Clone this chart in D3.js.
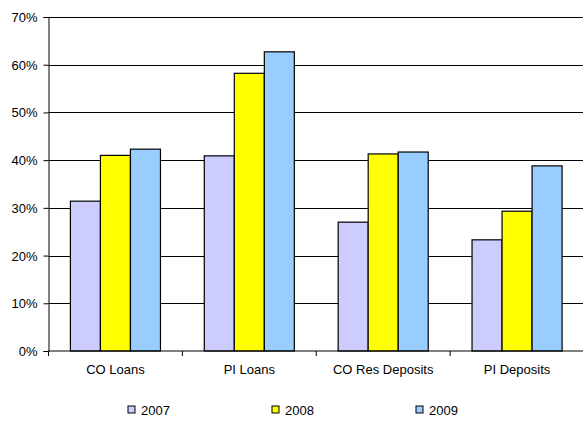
<!DOCTYPE html>
<html>
<head>
<meta charset="utf-8">
<script src="https://cdn.jsdelivr.net/npm/d3@7"></script>
<style>
	body { margin: 0; background: #fff; }
	text { font-family: "Liberation Sans", Arial, sans-serif; font-size: 13px; fill: #000; }
</style>
</head>
<body>
<div id="chart"></div>
<script>
var categories = ["CO Loans", "PI Loans", "CO Res Deposits", "PI Deposits"];
var years = ["2007", "2008", "2009"];
var values2007 = [0.314, 0.409, 0.270, 0.233];
var values2008 = [0.410, 0.582, 0.413, 0.293];
var values2009 = [0.423, 0.627, 0.417, 0.388];
var yTicks = [0, 0.1, 0.2, 0.3, 0.4, 0.5, 0.6, 0.7];
var colors = ["#CCCCFF", "#FFFF00", "#99CCFF"];

var seriesValues = [values2007, values2008, values2009];

var width = 583, height = 421;
var plotLeft = 48.5, plotRight = 584, plotTop = 17, plotBottom = 351;

var svg = d3.select("#chart").append("svg")
	.attr("width", width)
	.attr("height", height);

var y = d3.scaleLinear().domain([0, 0.7]).range([plotBottom, plotTop]);
var x0 = d3.scaleBand().domain(categories).range([plotLeft, plotRight]);
var x1 = d3.scaleBand().domain(years).range([0, x0.bandwidth()]).paddingOuter(0.73);

// gridlines
svg.append("g")
	.selectAll("line")
	.data(yTicks.slice(1))
	.enter()
	.append("line")
	.attr("x1", plotLeft)
	.attr("x2", width)
	.attr("y1", function(d){ return Math.round(y(d)) + 0.5; })
	.attr("y2", function(d){ return Math.round(y(d)) + 0.5; })
	.attr("stroke", "#000")
	.attr("stroke-width", 1);

// bars
var groups = svg.append("g")
	.selectAll("g")
	.data(categories)
	.enter()
	.append("g")
	.attr("transform", function(d){ return "translate(" + x0(d) + ",0)"; });

groups.selectAll("rect")
	.data(function(d, i){
		return years.map(function(yr, j){ return {year: yr, value: seriesValues[j][i], idx: j}; });
	})
	.enter()
	.append("rect")
	.attr("x", function(d){ return x1(d.year); })
	.attr("y", function(d){ return y(d.value); })
	.attr("width", x1.bandwidth())
	.attr("height", function(d){ return y(0) - y(d.value); })
	.attr("fill", function(d){ return colors[d.idx]; })
	.attr("stroke", "#000")
	.attr("stroke-width", 1.2);

// y axis
var yAxis = d3.axisLeft(y)
	.tickValues(yTicks)
	.tickFormat(d3.format(".0%"))
	.tickSize(5)
	.tickPadding(6);
var gy = svg.append("g")
	.attr("transform", "translate(" + plotLeft + ",0)")
	.call(yAxis);
gy.select(".domain").attr("stroke", "#000");
gy.selectAll("text").style("font-size", "13px").attr("dy", "0.35em");

// x axis
var xAxis = d3.axisBottom(x0).tickSize(0).tickPadding(14);
var gx = svg.append("g")
	.attr("transform", "translate(0," + plotBottom + ")")
	.call(xAxis);
gx.select(".domain").remove();
gx.selectAll("text").style("font-size", "13px");
gx.append("g")
	.selectAll("line")
	.data(categories.concat([null]))
	.enter()
	.append("line")
	.attr("x1", function(d, i){ return plotLeft + i * x0.step(); })
	.attr("x2", function(d, i){ return plotLeft + i * x0.step(); })
	.attr("y1", 0)
	.attr("y2", 5)
	.attr("stroke", "#000");
gx.append("line")
	.attr("x1", plotLeft)
	.attr("x2", width)
	.attr("y1", 0)
	.attr("y2", 0)
	.attr("stroke", "#000");

// legend
var legendX = [128, 272, 416];
var legend = svg.append("g")
	.selectAll("g")
	.data(years)
	.enter()
	.append("g")
	.attr("transform", function(d, i){ return "translate(" + legendX[i] + ",406)"; });
legend.append("rect")
	.attr("width", 7)
	.attr("height", 7)
	.attr("fill", function(d, i){ return colors[i]; })
	.attr("stroke", "#000")
	.attr("stroke-width", 1);
legend.append("text")
	.attr("x", 13)
	.attr("y", 9)
	.text(function(d){ return d; });
</script>
</body>
</html>
